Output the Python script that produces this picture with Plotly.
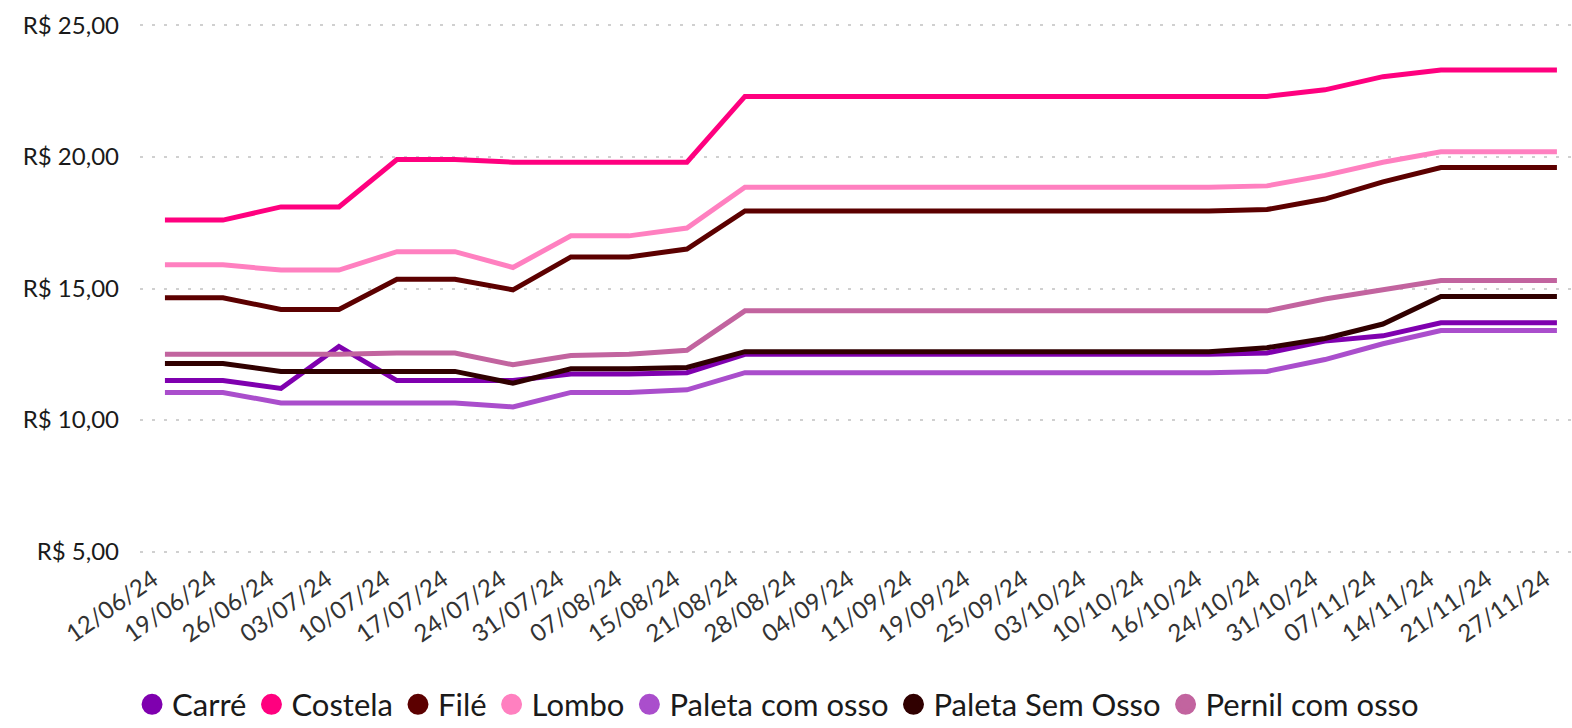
import plotly.graph_objects as go

dates = ["12/06/24", "19/06/24", "26/06/24", "03/07/24", "10/07/24", "17/07/24", "24/07/24",
         "31/07/24", "07/08/24", "15/08/24", "21/08/24", "28/08/24", "04/09/24", "11/09/24",
         "19/09/24", "25/09/24", "03/10/24", "10/10/24", "16/10/24", "24/10/24", "31/10/24",
         "07/11/24", "14/11/24", "21/11/24", "27/11/24"]

carre = [11.5, 11.5, 11.2, 12.8, 11.5, 11.5, 11.5, 11.75, 11.75, 11.8,
         12.5, 12.5, 12.5, 12.5, 12.5, 12.5, 12.5, 12.5, 12.5, 12.55,
         13.0, 13.2, 13.7, 13.7, 13.7]
costela = [17.6, 17.6, 18.1, 18.1, 19.9, 19.9, 19.8, 19.8, 19.8, 19.8,
           22.3, 22.3, 22.3, 22.3, 22.3, 22.3, 22.3, 22.3, 22.3, 22.3,
           22.55, 23.05, 23.3, 23.3, 23.3]
file_ = [14.65, 14.65, 14.2, 14.2, 15.35, 15.35, 14.95, 16.2, 16.2, 16.5,
         17.95, 17.95, 17.95, 17.95, 17.95, 17.95, 17.95, 17.95, 17.95, 18.0,
         18.4, 19.05, 19.6, 19.6, 19.6]
lombo = [15.9, 15.9, 15.7, 15.7, 16.4, 16.4, 15.8, 17.0, 17.0, 17.3,
         18.85, 18.85, 18.85, 18.85, 18.85, 18.85, 18.85, 18.85, 18.85, 18.9,
         19.3, 19.8, 20.2, 20.2, 20.2]
paleta_com_osso = [11.05, 11.05, 10.65, 10.65, 10.65, 10.65, 10.5, 11.05, 11.05, 11.15,
                   11.8, 11.8, 11.8, 11.8, 11.8, 11.8, 11.8, 11.8, 11.8, 11.85,
                   12.3, 12.9, 13.4, 13.4, 13.4]
paleta_sem_osso = [12.15, 12.15, 11.85, 11.85, 11.85, 11.85, 11.4, 11.95, 11.95, 12.0,
                   12.6, 12.6, 12.6, 12.6, 12.6, 12.6, 12.6, 12.6, 12.6, 12.75,
                   13.1, 13.65, 14.7, 14.7, 14.7]
pernil_com_osso = [12.5, 12.5, 12.5, 12.5, 12.55, 12.55, 12.1, 12.45, 12.5, 12.65,
                   14.15, 14.15, 14.15, 14.15, 14.15, 14.15, 14.15, 14.15, 14.15, 14.15,
                   14.6, 14.95, 15.3, 15.3, 15.3]

series_names = ["Carré", "Costela", "Filé", "Lombo", "Paleta com osso", "Paleta Sem Osso", "Pernil com osso"]
series_values = [carre, costela, file_, lombo, paleta_com_osso, paleta_sem_osso, pernil_com_osso]
series_colors = ["#7F00AF", "#FF007F", "#5C0000", "#FF80C0", "#AA4ECC", "#300000", "#C2649F"]

y_tick_vals = [5, 10, 15, 20, 25]
y_tick_text = ["R$ 5,00", "R$ 10,00", "R$ 15,00", "R$ 20,00", "R$ 25,00"]

FONT = "Lato, 'Open Sans', sans-serif"

fig = go.Figure()
for name, vals, col in zip(series_names, series_values, series_colors):
    fig.add_trace(go.Scatter(x=dates, y=vals, mode="lines", name=name,
                             line=dict(color=col, width=5), showlegend=False,
                             legendgroup=name, hoverinfo="x+y+name"))
for name, col in zip(series_names, series_colors):
    fig.add_trace(go.Scatter(x=[None], y=[None], mode="markers", name=name,
                             marker=dict(color=col, size=16, line=dict(color=col, width=5)),
                             showlegend=True, legendgroup=name))

fig.update_layout(
    width=1572, height=728,
    margin=dict(l=140, r=0, t=23, b=174),
    paper_bgcolor="white", plot_bgcolor="white",
    font=dict(family=FONT, color="#262626", size=24),
    showlegend=True,
    legend=dict(orientation="h", x=0.084, xanchor="left", xref="container",
                y=0.032, yref="container", yanchor="middle",
                font=dict(family=FONT, size=31, color="#1a1a1a"),
                itemwidth=30, tracegroupgap=0, bgcolor="rgba(0,0,0,0)"),
)
fig.update_xaxes(type="category", range=[-0.43, 24.26], showgrid=False, showline=False,
                 zeroline=False, tickangle=-35, ticks="", ticklabelshift=-12,
                 ticklabelstandoff=6,
                 tickfont=dict(family=FONT, size=24, color="#333333"))
fig.update_yaxes(range=[4.91, 25.09], tickvals=y_tick_vals, ticktext=y_tick_text,
                 showgrid=True, gridcolor="#D0D0D0", gridwidth=2, griddash="3px,9px",
                 showline=False, zeroline=False, ticks="", ticklabelstandoff=20,
                 tickfont=dict(family=FONT, size=24, color="#1a1a1a"))

fig.write_html("out.html", config={"displayModeBar": False},
               post_script="document.body.style.margin='0';")
